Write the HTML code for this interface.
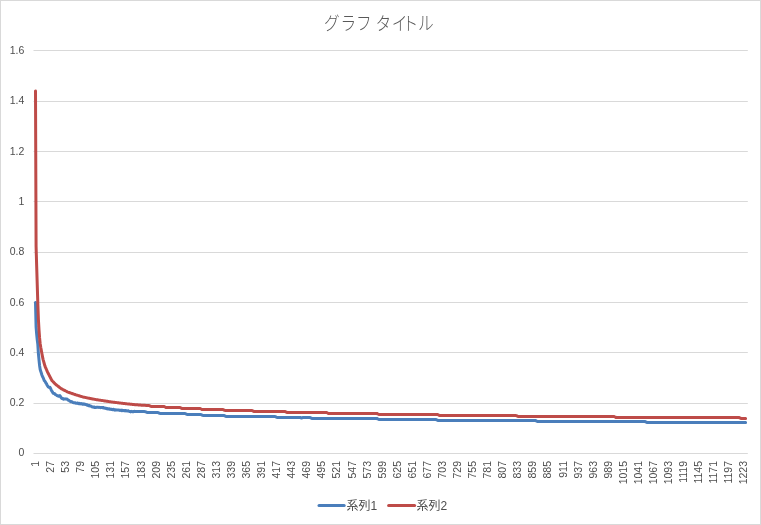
<!DOCTYPE html>
<html lang="ja"><head><meta charset="utf-8"><title>グラフ タイトル</title>
<style>
html,body{margin:0;padding:0;background:#fff;}
body{width:761px;height:525px;overflow:hidden;}
svg{display:block;}
text{font-family:"Liberation Sans","Noto Sans CJK JP",sans-serif;fill:#595959;}
.ax{font-size:10.5px;fill:#4d4d4d;}
.lg{font-size:12px;fill:#4d4d4d;}
.ti{font-size:18.67px;font-weight:300;}
</style></head><body>
<svg width="761" height="525" viewBox="0 0 761 525">
<rect x="0" y="0" width="761" height="525" fill="#fff"/>
<rect x="0.5" y="0.5" width="760" height="524" fill="none" stroke="#d9d9d9" stroke-width="1"/>

<rect x="33.5" y="50" width="714.3" height="1" fill="#d9d9d9"/>
<rect x="33.5" y="101" width="714.3" height="1" fill="#d9d9d9"/>
<rect x="33.5" y="151" width="714.3" height="1" fill="#d9d9d9"/>
<rect x="33.5" y="201" width="714.3" height="1" fill="#d9d9d9"/>
<rect x="33.5" y="252" width="714.3" height="1" fill="#d9d9d9"/>
<rect x="33.5" y="302" width="714.3" height="1" fill="#d9d9d9"/>
<rect x="33.5" y="352" width="714.3" height="1" fill="#d9d9d9"/>
<rect x="33.5" y="403" width="714.3" height="1" fill="#d9d9d9"/>
<rect x="33.5" y="453" width="714.3" height="1" fill="#d9d9d9"/>
<text class="ax" x="24.3" y="54.4" text-anchor="end">1.6</text>
<text class="ax" x="24.3" y="104.4" text-anchor="end">1.4</text>
<text class="ax" x="24.3" y="155.4" text-anchor="end">1.2</text>
<text class="ax" x="24.3" y="205.4" text-anchor="end">1</text>
<text class="ax" x="24.3" y="255.4" text-anchor="end">0.8</text>
<text class="ax" x="24.3" y="306.2" text-anchor="end">0.6</text>
<text class="ax" x="24.3" y="356.2" text-anchor="end">0.4</text>
<text class="ax" x="24.3" y="406.4" text-anchor="end">0.2</text>
<text class="ax" x="24.3" y="456.2" text-anchor="end">0</text>
<text class="ax" transform="translate(39.05,461) rotate(-90)" text-anchor="end">1</text>
<text class="ax" transform="translate(54.12,461) rotate(-90)" text-anchor="end">27</text>
<text class="ax" transform="translate(69.19,461) rotate(-90)" text-anchor="end">53</text>
<text class="ax" transform="translate(84.26,461) rotate(-90)" text-anchor="end">79</text>
<text class="ax" transform="translate(99.33,461) rotate(-90)" text-anchor="end">105</text>
<text class="ax" transform="translate(114.40,461) rotate(-90)" text-anchor="end">131</text>
<text class="ax" transform="translate(129.47,461) rotate(-90)" text-anchor="end">157</text>
<text class="ax" transform="translate(144.54,461) rotate(-90)" text-anchor="end">183</text>
<text class="ax" transform="translate(159.61,461) rotate(-90)" text-anchor="end">209</text>
<text class="ax" transform="translate(174.68,461) rotate(-90)" text-anchor="end">235</text>
<text class="ax" transform="translate(189.75,461) rotate(-90)" text-anchor="end">261</text>
<text class="ax" transform="translate(204.82,461) rotate(-90)" text-anchor="end">287</text>
<text class="ax" transform="translate(219.89,461) rotate(-90)" text-anchor="end">313</text>
<text class="ax" transform="translate(234.96,461) rotate(-90)" text-anchor="end">339</text>
<text class="ax" transform="translate(250.03,461) rotate(-90)" text-anchor="end">365</text>
<text class="ax" transform="translate(265.10,461) rotate(-90)" text-anchor="end">391</text>
<text class="ax" transform="translate(280.17,461) rotate(-90)" text-anchor="end">417</text>
<text class="ax" transform="translate(295.24,461) rotate(-90)" text-anchor="end">443</text>
<text class="ax" transform="translate(310.31,461) rotate(-90)" text-anchor="end">469</text>
<text class="ax" transform="translate(325.38,461) rotate(-90)" text-anchor="end">495</text>
<text class="ax" transform="translate(340.45,461) rotate(-90)" text-anchor="end">521</text>
<text class="ax" transform="translate(355.52,461) rotate(-90)" text-anchor="end">547</text>
<text class="ax" transform="translate(370.59,461) rotate(-90)" text-anchor="end">573</text>
<text class="ax" transform="translate(385.66,461) rotate(-90)" text-anchor="end">599</text>
<text class="ax" transform="translate(400.73,461) rotate(-90)" text-anchor="end">625</text>
<text class="ax" transform="translate(415.80,461) rotate(-90)" text-anchor="end">651</text>
<text class="ax" transform="translate(430.87,461) rotate(-90)" text-anchor="end">677</text>
<text class="ax" transform="translate(445.94,461) rotate(-90)" text-anchor="end">703</text>
<text class="ax" transform="translate(461.01,461) rotate(-90)" text-anchor="end">729</text>
<text class="ax" transform="translate(476.08,461) rotate(-90)" text-anchor="end">755</text>
<text class="ax" transform="translate(491.15,461) rotate(-90)" text-anchor="end">781</text>
<text class="ax" transform="translate(506.22,461) rotate(-90)" text-anchor="end">807</text>
<text class="ax" transform="translate(521.29,461) rotate(-90)" text-anchor="end">833</text>
<text class="ax" transform="translate(536.36,461) rotate(-90)" text-anchor="end">859</text>
<text class="ax" transform="translate(551.43,461) rotate(-90)" text-anchor="end">885</text>
<text class="ax" transform="translate(566.50,461) rotate(-90)" text-anchor="end">911</text>
<text class="ax" transform="translate(581.57,461) rotate(-90)" text-anchor="end">937</text>
<text class="ax" transform="translate(596.64,461) rotate(-90)" text-anchor="end">963</text>
<text class="ax" transform="translate(611.71,461) rotate(-90)" text-anchor="end">989</text>
<text class="ax" transform="translate(626.78,461) rotate(-90)" text-anchor="end">1015</text>
<text class="ax" transform="translate(641.85,461) rotate(-90)" text-anchor="end">1041</text>
<text class="ax" transform="translate(656.92,461) rotate(-90)" text-anchor="end">1067</text>
<text class="ax" transform="translate(671.99,461) rotate(-90)" text-anchor="end">1093</text>
<text class="ax" transform="translate(687.06,461) rotate(-90)" text-anchor="end">1119</text>
<text class="ax" transform="translate(702.13,461) rotate(-90)" text-anchor="end">1145</text>
<text class="ax" transform="translate(717.20,461) rotate(-90)" text-anchor="end">1171</text>
<text class="ax" transform="translate(732.27,461) rotate(-90)" text-anchor="end">1197</text>
<text class="ax" transform="translate(747.34,461) rotate(-90)" text-anchor="end">1223</text>
<path d="M35.50,302.40 L36.08,326.99 L36.66,334.08 L37.24,339.73 L37.82,344.38 L38.40,353.57 L38.98,359.59 L39.56,365.38 L40.14,369.29 L40.73,371.33 L41.31,373.04 L41.89,375.03 L42.47,376.47 L43.05,377.48 L43.63,378.86 L44.21,380.63 L44.79,381.06 L45.37,381.86 L45.95,383.22 L46.53,383.68 L47.11,385.32 L47.69,385.97 L48.27,386.89 L48.85,387.35 L49.43,387.41 L50.01,387.34 L50.60,388.52 L51.18,389.90 L51.76,390.98 L52.34,391.69 L52.92,393.02 L53.50,393.28 L54.08,393.45 L54.66,393.64 L55.24,394.59 L55.82,394.69 L56.40,395.15 L56.98,395.56 L57.56,395.73 L58.14,396.17 L58.72,396.09 L59.30,396.31 L59.89,395.67 L60.47,396.37 L61.05,397.57 L61.63,398.26 L62.21,398.48 L62.79,398.59 L63.37,399.15 L63.95,398.83 L64.53,399.01 L65.11,398.82 L65.69,399.01 L66.27,398.97 L66.85,398.99 L67.43,399.47 L68.01,399.80 L68.59,400.36 L69.17,400.53 L69.76,401.04 L70.34,401.32 L70.92,401.75 L71.50,401.86 L72.08,401.71 L72.66,402.38 L73.24,402.63 L73.82,402.77 L74.40,402.71 L74.98,402.99 L75.56,402.81 L76.14,403.32 L76.72,403.23 L77.30,403.11 L77.88,403.03 L78.46,403.67 L79.04,403.85 L79.63,403.30 L80.21,403.88 L80.79,403.69 L81.37,403.59 L81.95,403.78 L82.53,404.20 L83.11,404.35 L83.69,403.86 L84.27,404.34 L84.85,404.03 L85.43,404.58 L86.01,404.40 L86.59,404.87 L87.17,405.17 L87.75,405.08 L88.33,405.66 L88.92,405.42 L89.50,405.50 L90.08,406.10 L90.66,405.95 L91.24,406.30 L91.82,406.69 L92.40,407.07 L92.98,406.96 L93.56,406.89 L94.14,407.48 L94.72,407.10 L95.30,407.56 L95.88,407.53 L96.46,407.17 L97.04,407.24 L97.62,407.29 L98.20,407.38 L98.79,407.36 L99.37,407.36 L99.95,407.45 L100.53,407.72 L101.11,407.47 L101.69,407.46 L102.27,407.72 L102.85,407.43 L103.43,407.52 L104.01,408.08 L104.59,408.00 L105.17,408.26 L105.75,408.13 L106.33,408.64 L106.91,408.83 L107.49,408.52 L108.07,409.01 L108.66,409.09 L109.24,408.77 L109.82,409.24 L110.40,409.20 L110.98,409.42 L111.56,409.27 L112.14,409.59 L112.72,409.68 L113.30,409.26 L113.88,409.36 L114.46,409.86 L115.04,410.14 L115.62,409.71 L116.20,409.93 L116.78,410.10 L117.36,409.98 L117.95,410.09 L118.53,410.10 L119.11,410.18 L119.69,410.39 L120.27,410.22 L120.85,410.32 L121.43,410.64 L122.01,410.16 L122.59,410.58 L123.17,410.74 L123.75,410.49 L124.33,410.47 L124.91,410.92 L125.49,410.57 L126.07,410.57 L126.65,410.79 L127.23,411.02 L127.82,410.69 L128.40,410.97 L128.98,411.11 L129.56,411.58 L130.14,411.43 L130.72,411.85 L131.30,411.37 L131.88,411.49 L132.46,411.71 L133.04,411.87 L133.62,411.57 L134.20,411.41 L134.78,411.33 L135.36,411.60 L135.94,411.60 L136.52,411.60 L137.10,411.60 L137.69,411.60 L138.27,411.60 L138.85,411.60 L139.43,411.60 L140.01,411.60 L140.59,411.60 L141.17,411.60 L141.75,411.60 L142.33,411.60 L142.91,411.60 L143.49,411.60 L144.07,411.60 L144.65,411.60 L145.23,411.71 L145.81,411.97 L146.39,412.23 L146.98,412.49 L147.56,412.50 L148.14,412.50 L148.72,412.50 L149.30,412.50 L149.88,412.50 L150.46,412.50 L151.04,412.50 L151.62,412.50 L152.20,412.50 L152.78,412.50 L153.36,412.50 L153.94,412.50 L154.52,412.50 L155.10,412.50 L155.68,412.50 L156.26,412.50 L156.85,412.50 L157.43,412.50 L158.01,412.50 L158.59,412.79 L159.17,413.08 L159.75,413.37 L160.33,413.50 L160.91,413.50 L161.49,413.50 L162.07,413.50 L162.65,413.50 L163.23,413.50 L163.81,413.50 L164.39,413.50 L164.97,413.50 L165.55,413.50 L166.13,413.50 L166.72,413.50 L167.30,413.50 L167.88,413.50 L168.46,413.50 L169.04,413.50 L169.62,413.50 L170.20,413.50 L170.78,413.50 L171.36,413.50 L171.94,413.50 L172.52,413.50 L173.10,413.50 L173.68,413.50 L174.26,413.50 L174.84,413.50 L175.42,413.50 L176.01,413.50 L176.59,413.50 L177.17,413.50 L177.75,413.50 L178.33,413.50 L178.91,413.50 L179.49,413.50 L180.07,413.50 L180.65,413.50 L181.23,413.50 L181.81,413.50 L182.39,413.50 L182.97,413.50 L183.55,413.50 L184.13,413.50 L184.71,413.50 L185.29,413.65 L185.88,413.94 L186.46,414.23 L187.04,414.50 L187.62,414.50 L188.20,414.50 L188.78,414.50 L189.36,414.50 L189.94,414.50 L190.52,414.50 L191.10,414.50 L191.68,414.50 L192.26,414.50 L192.84,414.50 L193.42,414.50 L194.00,414.50 L194.58,414.50 L195.16,414.50 L195.75,414.50 L196.33,414.50 L196.91,414.50 L197.49,414.50 L198.07,414.50 L198.65,414.50 L199.23,414.50 L199.81,414.50 L200.39,414.50 L200.97,414.50 L201.55,414.78 L202.13,415.07 L202.71,415.36 L203.29,415.50 L203.87,415.50 L204.45,415.50 L205.04,415.50 L205.62,415.50 L206.20,415.50 L206.78,415.50 L207.36,415.50 L207.94,415.50 L208.52,415.50 L209.10,415.50 L209.68,415.50 L210.26,415.50 L210.84,415.50 L211.42,415.50 L212.00,415.50 L212.58,415.50 L213.16,415.50 L213.74,415.50 L214.32,415.50 L214.91,415.50 L215.49,415.50 L216.07,415.50 L216.65,415.50 L217.23,415.50 L217.81,415.50 L218.39,415.50 L218.97,415.50 L219.55,415.50 L220.13,415.50 L220.71,415.50 L221.29,415.50 L221.87,415.50 L222.45,415.50 L223.03,415.50 L223.61,415.50 L224.19,415.60 L224.78,415.89 L225.36,416.18 L225.94,416.47 L226.52,416.50 L227.10,416.50 L227.68,416.50 L228.26,416.50 L228.84,416.50 L229.42,416.50 L230.00,416.50 L230.58,416.50 L231.16,416.50 L231.74,416.50 L232.32,416.50 L232.90,416.50 L233.48,416.50 L234.07,416.50 L234.65,416.50 L235.23,416.50 L235.81,416.50 L236.39,416.50 L236.97,416.50 L237.55,416.50 L238.13,416.50 L238.71,416.50 L239.29,416.50 L239.87,416.50 L240.45,416.50 L241.03,416.50 L241.61,416.50 L242.19,416.50 L242.77,416.50 L243.35,416.50 L243.94,416.50 L244.52,416.50 L245.10,416.50 L245.68,416.50 L246.26,416.50 L246.84,416.50 L247.42,416.50 L248.00,416.50 L248.58,416.50 L249.16,416.50 L249.74,416.50 L250.32,416.50 L250.90,416.50 L251.48,416.50 L252.06,416.50 L252.64,416.50 L253.22,416.50 L253.81,416.50 L254.39,416.50 L254.97,416.50 L255.55,416.50 L256.13,416.50 L256.71,416.50 L257.29,416.50 L257.87,416.50 L258.45,416.50 L259.03,416.50 L259.61,416.50 L260.19,416.50 L260.77,416.50 L261.35,416.50 L261.93,416.50 L262.51,416.50 L263.10,416.50 L263.68,416.50 L264.26,416.50 L264.84,416.50 L265.42,416.50 L266.00,416.50 L266.58,416.50 L267.16,416.50 L267.74,416.50 L268.32,416.50 L268.90,416.50 L269.48,416.50 L270.06,416.50 L270.64,416.50 L271.22,416.50 L271.80,416.50 L272.38,416.50 L272.97,416.50 L273.55,416.50 L274.13,416.50 L274.71,416.50 L275.29,416.64 L275.87,416.93 L276.45,417.22 L277.03,417.50 L277.61,417.50 L278.19,417.50 L278.77,417.50 L279.35,417.50 L279.93,417.50 L280.51,417.50 L281.09,417.50 L281.67,417.50 L282.25,417.50 L282.84,417.50 L283.42,417.50 L284.00,417.50 L284.58,417.50 L285.16,417.50 L285.74,417.50 L286.32,417.50 L286.90,417.50 L287.48,417.50 L288.06,417.50 L288.64,417.50 L289.22,417.50 L289.80,417.50 L290.38,417.50 L290.96,417.50 L291.54,417.50 L292.13,417.50 L292.71,417.50 L293.29,417.50 L293.87,417.50 L294.45,417.50 L295.03,417.50 L295.61,417.50 L296.19,417.50 L296.77,417.50 L297.35,417.50 L297.93,417.50 L298.51,417.50 L299.09,417.50 L299.67,417.50 L300.25,417.50 L300.83,417.50 L301.41,418.05 L302.00,417.77 L302.58,417.50 L303.16,417.50 L303.74,417.50 L304.32,417.50 L304.90,417.50 L305.48,417.50 L306.06,417.50 L306.64,417.50 L307.22,417.50 L307.80,417.50 L308.38,417.50 L308.96,417.50 L309.54,417.50 L310.12,417.56 L310.70,417.85 L311.28,418.14 L311.87,418.43 L312.45,418.50 L313.03,418.50 L313.61,418.50 L314.19,418.50 L314.77,418.50 L315.35,418.50 L315.93,418.50 L316.51,418.50 L317.09,418.50 L317.67,418.50 L318.25,418.50 L318.83,418.50 L319.41,418.50 L319.99,418.50 L320.57,418.50 L321.16,418.50 L321.74,418.50 L322.32,418.50 L322.90,418.50 L323.48,418.50 L324.06,418.50 L324.64,418.50 L325.22,418.50 L325.80,418.50 L326.38,418.50 L326.96,418.50 L327.54,418.50 L328.12,418.50 L328.70,418.50 L329.28,418.50 L329.86,418.50 L330.44,418.50 L331.03,418.50 L331.61,418.50 L332.19,418.50 L332.77,418.50 L333.35,418.50 L333.93,418.50 L334.51,418.50 L335.09,418.50 L335.67,418.50 L336.25,418.50 L336.83,418.50 L337.41,418.50 L337.99,418.50 L338.57,418.50 L339.15,418.50 L339.73,418.50 L340.31,418.50 L340.90,418.50 L341.48,418.50 L342.06,418.50 L342.64,418.50 L343.22,418.50 L343.80,418.50 L344.38,418.50 L344.96,418.50 L345.54,418.50 L346.12,418.50 L346.70,418.50 L347.28,418.50 L347.86,418.50 L348.44,418.50 L349.02,418.50 L349.60,418.50 L350.19,418.50 L350.77,418.50 L351.35,418.50 L351.93,418.50 L352.51,418.50 L353.09,418.50 L353.67,418.50 L354.25,418.50 L354.83,418.50 L355.41,418.50 L355.99,418.50 L356.57,418.50 L357.15,418.50 L357.73,418.50 L358.31,418.50 L358.89,418.50 L359.47,418.50 L360.06,418.50 L360.64,418.50 L361.22,418.50 L361.80,418.50 L362.38,418.50 L362.96,418.50 L363.54,418.50 L364.12,418.50 L364.70,418.50 L365.28,418.50 L365.86,418.50 L366.44,418.50 L367.02,418.50 L367.60,418.50 L368.18,418.50 L368.76,418.50 L369.34,418.50 L369.93,418.50 L370.51,418.50 L371.09,418.50 L371.67,418.50 L372.25,418.50 L372.83,418.50 L373.41,418.50 L373.99,418.50 L374.57,418.50 L375.15,418.50 L375.73,418.50 L376.31,418.50 L376.89,418.50 L377.47,418.74 L378.05,419.03 L378.63,419.32 L379.22,419.50 L379.80,419.50 L380.38,419.50 L380.96,419.50 L381.54,419.50 L382.12,419.50 L382.70,419.50 L383.28,419.50 L383.86,419.50 L384.44,419.50 L385.02,419.50 L385.60,419.50 L386.18,419.50 L386.76,419.50 L387.34,419.50 L387.92,419.50 L388.50,419.50 L389.09,419.50 L389.67,419.50 L390.25,419.50 L390.83,419.50 L391.41,419.50 L391.99,419.50 L392.57,419.50 L393.15,419.50 L393.73,419.50 L394.31,419.50 L394.89,419.50 L395.47,419.50 L396.05,419.50 L396.63,419.50 L397.21,419.50 L397.79,419.50 L398.37,419.50 L398.96,419.50 L399.54,419.50 L400.12,419.50 L400.70,419.50 L401.28,419.50 L401.86,419.50 L402.44,419.50 L403.02,419.50 L403.60,419.50 L404.18,419.50 L404.76,419.50 L405.34,419.50 L405.92,419.50 L406.50,419.50 L407.08,419.50 L407.66,419.50 L408.25,419.50 L408.83,419.50 L409.41,419.50 L409.99,419.50 L410.57,419.50 L411.15,419.50 L411.73,419.50 L412.31,419.50 L412.89,419.50 L413.47,419.50 L414.05,419.50 L414.63,419.50 L415.21,419.50 L415.79,419.50 L416.37,419.50 L416.95,419.50 L417.53,419.50 L418.12,419.50 L418.70,419.50 L419.28,419.50 L419.86,419.50 L420.44,419.50 L421.02,419.50 L421.60,419.50 L422.18,419.50 L422.76,419.50 L423.34,419.50 L423.92,419.50 L424.50,419.50 L425.08,419.50 L425.66,419.50 L426.24,419.50 L426.82,419.50 L427.40,419.50 L427.99,419.50 L428.57,419.50 L429.15,419.50 L429.73,419.50 L430.31,419.50 L430.89,419.50 L431.47,419.50 L432.05,419.50 L432.63,419.50 L433.21,419.50 L433.79,419.50 L434.37,419.50 L434.95,419.50 L435.53,419.50 L436.11,419.56 L436.69,419.85 L437.28,420.14 L437.86,420.43 L438.44,420.50 L439.02,420.50 L439.60,420.50 L440.18,420.50 L440.76,420.50 L441.34,420.50 L441.92,420.50 L442.50,420.50 L443.08,420.50 L443.66,420.50 L444.24,420.50 L444.82,420.50 L445.40,420.50 L445.98,420.50 L446.56,420.50 L447.15,420.50 L447.73,420.50 L448.31,420.50 L448.89,420.50 L449.47,420.50 L450.05,420.50 L450.63,420.50 L451.21,420.50 L451.79,420.50 L452.37,420.50 L452.95,420.50 L453.53,420.50 L454.11,420.50 L454.69,420.50 L455.27,420.50 L455.85,420.50 L456.43,420.50 L457.02,420.50 L457.60,420.50 L458.18,420.50 L458.76,420.50 L459.34,420.50 L459.92,420.50 L460.50,420.50 L461.08,420.50 L461.66,420.50 L462.24,420.50 L462.82,420.50 L463.40,420.50 L463.98,420.50 L464.56,420.50 L465.14,420.50 L465.72,420.50 L466.31,420.50 L466.89,420.50 L467.47,420.50 L468.05,420.50 L468.63,420.50 L469.21,420.50 L469.79,420.50 L470.37,420.50 L470.95,420.50 L471.53,420.50 L472.11,420.50 L472.69,420.50 L473.27,420.50 L473.85,420.50 L474.43,420.50 L475.01,420.50 L475.59,420.50 L476.18,420.50 L476.76,420.50 L477.34,420.50 L477.92,420.50 L478.50,420.50 L479.08,420.50 L479.66,420.50 L480.24,420.50 L480.82,420.50 L481.40,420.50 L481.98,420.50 L482.56,420.50 L483.14,420.50 L483.72,420.50 L484.30,420.50 L484.88,420.50 L485.46,420.50 L486.05,420.50 L486.63,420.50 L487.21,420.50 L487.79,420.50 L488.37,420.50 L488.95,420.50 L489.53,420.50 L490.11,420.50 L490.69,420.50 L491.27,420.50 L491.85,420.50 L492.43,420.50 L493.01,420.50 L493.59,420.50 L494.17,420.50 L494.75,420.50 L495.34,420.50 L495.92,420.50 L496.50,420.50 L497.08,420.50 L497.66,420.50 L498.24,420.50 L498.82,420.50 L499.40,420.50 L499.98,420.50 L500.56,420.50 L501.14,420.50 L501.72,420.50 L502.30,420.50 L502.88,420.50 L503.46,420.50 L504.04,420.50 L504.62,420.50 L505.21,420.50 L505.79,420.50 L506.37,420.50 L506.95,420.50 L507.53,420.50 L508.11,420.50 L508.69,420.50 L509.27,420.50 L509.85,420.50 L510.43,420.50 L511.01,420.50 L511.59,420.50 L512.17,420.50 L512.75,420.50 L513.33,420.50 L513.91,420.50 L514.49,420.50 L515.08,420.50 L515.66,420.50 L516.24,420.50 L516.82,420.50 L517.40,420.50 L517.98,420.50 L518.56,420.50 L519.14,420.50 L519.72,420.50 L520.30,420.50 L520.88,420.50 L521.46,420.50 L522.04,420.50 L522.62,420.50 L523.20,420.50 L523.78,420.50 L524.37,420.50 L524.95,420.50 L525.53,420.50 L526.11,420.50 L526.69,420.50 L527.27,420.50 L527.85,420.50 L528.43,420.50 L529.01,420.50 L529.59,420.50 L530.17,420.50 L530.75,420.50 L531.33,420.50 L531.91,420.50 L532.49,420.50 L533.07,420.50 L533.65,420.50 L534.24,420.50 L534.82,420.50 L535.40,420.50 L535.98,420.74 L536.56,421.03 L537.14,421.32 L537.72,421.50 L538.30,421.50 L538.88,421.50 L539.46,421.50 L540.04,421.50 L540.62,421.50 L541.20,421.50 L541.78,421.50 L542.36,421.50 L542.94,421.50 L543.52,421.50 L544.11,421.50 L544.69,421.50 L545.27,421.50 L545.85,421.50 L546.43,421.50 L547.01,421.50 L547.59,421.50 L548.17,421.50 L548.75,421.50 L549.33,421.50 L549.91,421.50 L550.49,421.50 L551.07,421.50 L551.65,421.50 L552.23,421.50 L552.81,421.50 L553.40,421.50 L553.98,421.50 L554.56,421.50 L555.14,421.50 L555.72,421.50 L556.30,421.50 L556.88,421.50 L557.46,421.50 L558.04,421.50 L558.62,421.50 L559.20,421.50 L559.78,421.50 L560.36,421.50 L560.94,421.50 L561.52,421.50 L562.10,421.50 L562.68,421.50 L563.27,421.50 L563.85,421.50 L564.43,421.50 L565.01,421.50 L565.59,421.50 L566.17,421.50 L566.75,421.50 L567.33,421.50 L567.91,421.50 L568.49,421.50 L569.07,421.50 L569.65,421.50 L570.23,421.50 L570.81,421.50 L571.39,421.50 L571.97,421.50 L572.55,421.50 L573.14,421.50 L573.72,421.50 L574.30,421.50 L574.88,421.50 L575.46,421.50 L576.04,421.50 L576.62,421.50 L577.20,421.50 L577.78,421.50 L578.36,421.50 L578.94,421.50 L579.52,421.50 L580.10,421.50 L580.68,421.50 L581.26,421.50 L581.84,421.50 L582.43,421.50 L583.01,421.50 L583.59,421.50 L584.17,421.50 L584.75,421.50 L585.33,421.50 L585.91,421.50 L586.49,421.50 L587.07,421.50 L587.65,421.50 L588.23,421.50 L588.81,421.50 L589.39,421.50 L589.97,421.50 L590.55,421.50 L591.13,421.50 L591.71,421.50 L592.30,421.50 L592.88,421.50 L593.46,421.50 L594.04,421.50 L594.62,421.50 L595.20,421.50 L595.78,421.50 L596.36,421.50 L596.94,421.50 L597.52,421.50 L598.10,421.50 L598.68,421.50 L599.26,421.50 L599.84,421.50 L600.42,421.50 L601.00,421.50 L601.58,421.50 L602.17,421.50 L602.75,421.50 L603.33,421.50 L603.91,421.50 L604.49,421.50 L605.07,421.50 L605.65,421.50 L606.23,421.50 L606.81,421.50 L607.39,421.50 L607.97,421.50 L608.55,421.50 L609.13,421.50 L609.71,421.50 L610.29,421.50 L610.87,421.50 L611.46,421.50 L612.04,421.50 L612.62,421.50 L613.20,421.50 L613.78,421.50 L614.36,421.50 L614.94,421.50 L615.52,421.50 L616.10,421.50 L616.68,421.50 L617.26,421.50 L617.84,421.50 L618.42,421.50 L619.00,421.50 L619.58,421.50 L620.16,421.50 L620.74,421.50 L621.33,421.50 L621.91,421.50 L622.49,421.50 L623.07,421.50 L623.65,421.50 L624.23,421.50 L624.81,421.50 L625.39,421.50 L625.97,421.50 L626.55,421.50 L627.13,421.50 L627.71,421.50 L628.29,421.50 L628.87,421.50 L629.45,421.50 L630.03,421.50 L630.61,421.50 L631.20,421.50 L631.78,421.50 L632.36,421.50 L632.94,421.50 L633.52,421.50 L634.10,421.50 L634.68,421.50 L635.26,421.50 L635.84,421.50 L636.42,421.50 L637.00,421.50 L637.58,421.50 L638.16,421.50 L638.74,421.50 L639.32,421.50 L639.90,421.50 L640.49,421.50 L641.07,421.50 L641.65,421.50 L642.23,421.50 L642.81,421.50 L643.39,421.50 L643.97,421.50 L644.55,421.50 L645.13,421.56 L645.71,421.86 L646.29,422.15 L646.87,422.44 L647.45,422.50 L648.03,422.50 L648.61,422.50 L649.19,422.50 L649.77,422.50 L650.36,422.50 L650.94,422.50 L651.52,422.50 L652.10,422.50 L652.68,422.50 L653.26,422.50 L653.84,422.50 L654.42,422.50 L655.00,422.50 L655.58,422.50 L656.16,422.50 L656.74,422.50 L657.32,422.50 L657.90,422.50 L658.48,422.50 L659.06,422.50 L659.64,422.50 L660.23,422.50 L660.81,422.50 L661.39,422.50 L661.97,422.50 L662.55,422.50 L663.13,422.50 L663.71,422.50 L664.29,422.50 L664.87,422.50 L665.45,422.50 L666.03,422.50 L666.61,422.50 L667.19,422.50 L667.77,422.50 L668.35,422.50 L668.93,422.50 L669.52,422.50 L670.10,422.50 L670.68,422.50 L671.26,422.50 L671.84,422.50 L672.42,422.50 L673.00,422.50 L673.58,422.50 L674.16,422.50 L674.74,422.50 L675.32,422.50 L675.90,422.50 L676.48,422.50 L677.06,422.50 L677.64,422.50 L678.22,422.50 L678.80,422.50 L679.39,422.50 L679.97,422.50 L680.55,422.50 L681.13,422.50 L681.71,422.50 L682.29,422.50 L682.87,422.50 L683.45,422.50 L684.03,422.50 L684.61,422.50 L685.19,422.50 L685.77,422.50 L686.35,422.50 L686.93,422.50 L687.51,422.50 L688.09,422.50 L688.67,422.50 L689.26,422.50 L689.84,422.50 L690.42,422.50 L691.00,422.50 L691.58,422.50 L692.16,422.50 L692.74,422.50 L693.32,422.50 L693.90,422.50 L694.48,422.50 L695.06,422.50 L695.64,422.50 L696.22,422.50 L696.80,422.50 L697.38,422.50 L697.96,422.50 L698.55,422.50 L699.13,422.50 L699.71,422.50 L700.29,422.50 L700.87,422.50 L701.45,422.50 L702.03,422.50 L702.61,422.50 L703.19,422.50 L703.77,422.50 L704.35,422.50 L704.93,422.50 L705.51,422.50 L706.09,422.50 L706.67,422.50 L707.25,422.50 L707.83,422.50 L708.42,422.50 L709.00,422.50 L709.58,422.50 L710.16,422.50 L710.74,422.50 L711.32,422.50 L711.90,422.50 L712.48,422.50 L713.06,422.50 L713.64,422.50 L714.22,422.50 L714.80,422.50 L715.38,422.50 L715.96,422.50 L716.54,422.50 L717.12,422.50 L717.70,422.50 L718.29,422.50 L718.87,422.50 L719.45,422.50 L720.03,422.50 L720.61,422.50 L721.19,422.50 L721.77,422.50 L722.35,422.50 L722.93,422.50 L723.51,422.50 L724.09,422.50 L724.67,422.50 L725.25,422.50 L725.83,422.50 L726.41,422.50 L726.99,422.50 L727.58,422.50 L728.16,422.50 L728.74,422.50 L729.32,422.50 L729.90,422.50 L730.48,422.50 L731.06,422.50 L731.64,422.50 L732.22,422.50 L732.80,422.50 L733.38,422.50 L733.96,422.50 L734.54,422.50 L735.12,422.50 L735.70,422.50 L736.28,422.50 L736.86,422.50 L737.45,422.50 L738.03,422.50 L738.61,422.50 L739.19,422.50 L739.77,422.50 L740.35,422.50 L740.93,422.50 L741.51,422.50 L742.09,422.50 L742.67,422.50 L743.25,422.50 L743.83,422.50 L744.41,422.50 L744.99,422.50 L745.57,422.50 L745.60,422.50" fill="none" stroke="#4a7ebb" stroke-width="3" stroke-linecap="round" stroke-linejoin="round"/>
<path d="M35.50,91.00 L36.08,246.22 L36.66,265.84 L37.24,284.62 L37.82,303.61 L38.40,319.37 L38.98,329.52 L39.56,337.64 L40.14,343.45 L40.73,347.28 L41.31,350.39 L41.89,353.46 L42.47,356.45 L43.05,359.37 L43.63,361.43 L44.21,363.49 L44.79,365.55 L45.37,367.13 L45.95,368.44 L46.53,369.75 L47.11,371.05 L47.69,372.36 L48.27,373.52 L48.85,374.64 L49.43,375.76 L50.01,376.89 L50.60,378.01 L51.18,379.12 L51.76,380.23 L52.34,380.95 L52.92,381.54 L53.50,382.14 L54.08,382.74 L54.66,383.33 L55.24,383.93 L55.82,384.52 L56.40,384.96 L56.98,385.41 L57.56,385.85 L58.14,386.30 L58.72,386.75 L59.30,387.19 L59.89,387.64 L60.47,388.08 L61.05,388.53 L61.63,388.92 L62.21,389.21 L62.79,389.51 L63.37,389.80 L63.95,390.09 L64.53,390.39 L65.11,390.68 L65.69,390.98 L66.27,391.27 L66.85,391.57 L67.43,391.86 L68.01,392.11 L68.59,392.31 L69.17,392.51 L69.76,392.71 L70.34,392.91 L70.92,393.11 L71.50,393.31 L72.08,393.52 L72.66,393.72 L73.24,393.92 L73.82,394.12 L74.40,394.32 L74.98,394.52 L75.56,394.72 L76.14,394.90 L76.72,395.07 L77.30,395.25 L77.88,395.42 L78.46,395.60 L79.04,395.78 L79.63,395.95 L80.21,396.13 L80.79,396.31 L81.37,396.48 L81.95,396.66 L82.53,396.84 L83.11,397.01 L83.69,397.16 L84.27,397.28 L84.85,397.39 L85.43,397.51 L86.01,397.63 L86.59,397.75 L87.17,397.86 L87.75,397.98 L88.33,398.10 L88.92,398.22 L89.50,398.33 L90.08,398.45 L90.66,398.57 L91.24,398.69 L91.82,398.80 L92.40,398.91 L92.98,399.02 L93.56,399.13 L94.14,399.24 L94.72,399.36 L95.30,399.47 L95.88,399.58 L96.46,399.67 L97.04,399.76 L97.62,399.85 L98.20,399.93 L98.79,400.02 L99.37,400.11 L99.95,400.20 L100.53,400.29 L101.11,400.38 L101.69,400.46 L102.27,400.55 L102.85,400.64 L103.43,400.73 L104.01,400.82 L104.59,400.91 L105.17,400.99 L105.75,401.08 L106.33,401.17 L106.91,401.26 L107.49,401.35 L108.07,401.43 L108.66,401.52 L109.24,401.61 L109.82,401.70 L110.40,401.79 L110.98,401.88 L111.56,401.96 L112.14,402.04 L112.72,402.12 L113.30,402.19 L113.88,402.26 L114.46,402.34 L115.04,402.41 L115.62,402.48 L116.20,402.56 L116.78,402.63 L117.36,402.70 L117.95,402.78 L118.53,402.85 L119.11,402.92 L119.69,403.00 L120.27,403.07 L120.85,403.13 L121.43,403.20 L122.01,403.27 L122.59,403.33 L123.17,403.40 L123.75,403.47 L124.33,403.53 L124.91,403.60 L125.49,403.67 L126.07,403.74 L126.65,403.80 L127.23,403.87 L127.82,403.93 L128.40,403.99 L128.98,404.05 L129.56,404.11 L130.14,404.17 L130.72,404.23 L131.30,404.28 L131.88,404.34 L132.46,404.40 L133.04,404.46 L133.62,404.52 L134.20,404.58 L134.78,404.64 L135.36,404.70 L135.94,404.74 L136.52,404.79 L137.10,404.83 L137.69,404.87 L138.27,404.92 L138.85,404.96 L139.43,405.01 L140.01,405.05 L140.59,405.09 L141.17,405.14 L141.75,405.18 L142.33,405.23 L142.91,405.27 L143.49,405.31 L144.07,405.33 L144.65,405.35 L145.23,405.37 L145.81,405.39 L146.39,405.41 L146.98,405.43 L147.56,405.45 L148.14,405.47 L148.72,405.49 L149.30,405.65 L149.88,405.94 L150.46,406.23 L151.04,406.50 L151.62,406.50 L152.20,406.50 L152.78,406.50 L153.36,406.50 L153.94,406.50 L154.52,406.50 L155.10,406.50 L155.68,406.50 L156.26,406.50 L156.85,406.50 L157.43,406.50 L158.01,406.50 L158.59,406.50 L159.17,406.50 L159.75,406.50 L160.33,406.50 L160.91,406.50 L161.49,406.50 L162.07,406.50 L162.65,406.50 L163.23,406.50 L163.81,406.50 L164.39,406.70 L164.97,406.99 L165.55,407.28 L166.13,407.50 L166.72,407.50 L167.30,407.50 L167.88,407.50 L168.46,407.50 L169.04,407.50 L169.62,407.50 L170.20,407.50 L170.78,407.50 L171.36,407.50 L171.94,407.50 L172.52,407.50 L173.10,407.50 L173.68,407.50 L174.26,407.50 L174.84,407.50 L175.42,407.50 L176.01,407.50 L176.59,407.50 L177.17,407.50 L177.75,407.50 L178.33,407.50 L178.91,407.50 L179.49,407.50 L180.07,407.53 L180.65,407.82 L181.23,408.12 L181.81,408.41 L182.39,408.50 L182.97,408.50 L183.55,408.50 L184.13,408.50 L184.71,408.50 L185.29,408.50 L185.88,408.50 L186.46,408.50 L187.04,408.50 L187.62,408.50 L188.20,408.50 L188.78,408.50 L189.36,408.50 L189.94,408.50 L190.52,408.50 L191.10,408.50 L191.68,408.50 L192.26,408.50 L192.84,408.50 L193.42,408.50 L194.00,408.50 L194.58,408.50 L195.16,408.50 L195.75,408.50 L196.33,408.50 L196.91,408.50 L197.49,408.50 L198.07,408.50 L198.65,408.50 L199.23,408.50 L199.81,408.50 L200.39,408.70 L200.97,408.99 L201.55,409.28 L202.13,409.50 L202.71,409.50 L203.29,409.50 L203.87,409.50 L204.45,409.50 L205.04,409.50 L205.62,409.50 L206.20,409.50 L206.78,409.50 L207.36,409.50 L207.94,409.50 L208.52,409.50 L209.10,409.50 L209.68,409.50 L210.26,409.50 L210.84,409.50 L211.42,409.50 L212.00,409.50 L212.58,409.50 L213.16,409.50 L213.74,409.50 L214.32,409.50 L214.91,409.50 L215.49,409.50 L216.07,409.50 L216.65,409.50 L217.23,409.50 L217.81,409.50 L218.39,409.50 L218.97,409.50 L219.55,409.50 L220.13,409.50 L220.71,409.50 L221.29,409.50 L221.87,409.50 L222.45,409.50 L223.03,409.52 L223.61,409.81 L224.19,410.10 L224.78,410.39 L225.36,410.50 L225.94,410.50 L226.52,410.50 L227.10,410.50 L227.68,410.50 L228.26,410.50 L228.84,410.50 L229.42,410.50 L230.00,410.50 L230.58,410.50 L231.16,410.50 L231.74,410.50 L232.32,410.50 L232.90,410.50 L233.48,410.50 L234.07,410.50 L234.65,410.50 L235.23,410.50 L235.81,410.50 L236.39,410.50 L236.97,410.50 L237.55,410.50 L238.13,410.50 L238.71,410.50 L239.29,410.50 L239.87,410.50 L240.45,410.50 L241.03,410.50 L241.61,410.50 L242.19,410.50 L242.77,410.50 L243.35,410.50 L243.94,410.50 L244.52,410.50 L245.10,410.50 L245.68,410.50 L246.26,410.50 L246.84,410.50 L247.42,410.50 L248.00,410.50 L248.58,410.50 L249.16,410.50 L249.74,410.50 L250.32,410.50 L250.90,410.50 L251.48,410.50 L252.06,410.53 L252.64,410.82 L253.22,411.11 L253.81,411.40 L254.39,411.50 L254.97,411.50 L255.55,411.50 L256.13,411.50 L256.71,411.50 L257.29,411.50 L257.87,411.50 L258.45,411.50 L259.03,411.50 L259.61,411.50 L260.19,411.50 L260.77,411.50 L261.35,411.50 L261.93,411.50 L262.51,411.50 L263.10,411.50 L263.68,411.50 L264.26,411.50 L264.84,411.50 L265.42,411.50 L266.00,411.50 L266.58,411.50 L267.16,411.50 L267.74,411.50 L268.32,411.50 L268.90,411.50 L269.48,411.50 L270.06,411.50 L270.64,411.50 L271.22,411.50 L271.80,411.50 L272.38,411.50 L272.97,411.50 L273.55,411.50 L274.13,411.50 L274.71,411.50 L275.29,411.50 L275.87,411.50 L276.45,411.50 L277.03,411.50 L277.61,411.50 L278.19,411.50 L278.77,411.50 L279.35,411.50 L279.93,411.50 L280.51,411.50 L281.09,411.50 L281.67,411.50 L282.25,411.50 L282.84,411.50 L283.42,411.50 L284.00,411.50 L284.58,411.50 L285.16,411.58 L285.74,411.87 L286.32,412.16 L286.90,412.45 L287.48,412.50 L288.06,412.50 L288.64,412.50 L289.22,412.50 L289.80,412.50 L290.38,412.50 L290.96,412.50 L291.54,412.50 L292.13,412.50 L292.71,412.50 L293.29,412.50 L293.87,412.50 L294.45,412.50 L295.03,412.50 L295.61,412.50 L296.19,412.50 L296.77,412.50 L297.35,412.50 L297.93,412.50 L298.51,412.50 L299.09,412.50 L299.67,412.50 L300.25,412.50 L300.83,412.50 L301.41,412.50 L302.00,412.50 L302.58,412.50 L303.16,412.50 L303.74,412.50 L304.32,412.50 L304.90,412.50 L305.48,412.50 L306.06,412.50 L306.64,412.50 L307.22,412.50 L307.80,412.50 L308.38,412.50 L308.96,412.50 L309.54,412.50 L310.12,412.50 L310.70,412.50 L311.28,412.50 L311.87,412.50 L312.45,412.50 L313.03,412.50 L313.61,412.50 L314.19,412.50 L314.77,412.50 L315.35,412.50 L315.93,412.50 L316.51,412.50 L317.09,412.50 L317.67,412.50 L318.25,412.50 L318.83,412.50 L319.41,412.50 L319.99,412.50 L320.57,412.50 L321.16,412.50 L321.74,412.50 L322.32,412.50 L322.90,412.50 L323.48,412.50 L324.06,412.50 L324.64,412.50 L325.22,412.50 L325.80,412.50 L326.38,412.50 L326.96,412.73 L327.54,413.02 L328.12,413.31 L328.70,413.50 L329.28,413.50 L329.86,413.50 L330.44,413.50 L331.03,413.50 L331.61,413.50 L332.19,413.50 L332.77,413.50 L333.35,413.50 L333.93,413.50 L334.51,413.50 L335.09,413.50 L335.67,413.50 L336.25,413.50 L336.83,413.50 L337.41,413.50 L337.99,413.50 L338.57,413.50 L339.15,413.50 L339.73,413.50 L340.31,413.50 L340.90,413.50 L341.48,413.50 L342.06,413.50 L342.64,413.50 L343.22,413.50 L343.80,413.50 L344.38,413.50 L344.96,413.50 L345.54,413.50 L346.12,413.50 L346.70,413.50 L347.28,413.50 L347.86,413.50 L348.44,413.50 L349.02,413.50 L349.60,413.50 L350.19,413.50 L350.77,413.50 L351.35,413.50 L351.93,413.50 L352.51,413.50 L353.09,413.50 L353.67,413.50 L354.25,413.50 L354.83,413.50 L355.41,413.50 L355.99,413.50 L356.57,413.50 L357.15,413.50 L357.73,413.50 L358.31,413.50 L358.89,413.50 L359.47,413.50 L360.06,413.50 L360.64,413.50 L361.22,413.50 L361.80,413.50 L362.38,413.50 L362.96,413.50 L363.54,413.50 L364.12,413.50 L364.70,413.50 L365.28,413.50 L365.86,413.50 L366.44,413.50 L367.02,413.50 L367.60,413.50 L368.18,413.50 L368.76,413.50 L369.34,413.50 L369.93,413.50 L370.51,413.50 L371.09,413.50 L371.67,413.50 L372.25,413.50 L372.83,413.50 L373.41,413.50 L373.99,413.50 L374.57,413.50 L375.15,413.50 L375.73,413.50 L376.31,413.50 L376.89,413.50 L377.47,413.74 L378.05,414.03 L378.63,414.32 L379.22,414.50 L379.80,414.50 L380.38,414.50 L380.96,414.50 L381.54,414.50 L382.12,414.50 L382.70,414.50 L383.28,414.50 L383.86,414.50 L384.44,414.50 L385.02,414.50 L385.60,414.50 L386.18,414.50 L386.76,414.50 L387.34,414.50 L387.92,414.50 L388.50,414.50 L389.09,414.50 L389.67,414.50 L390.25,414.50 L390.83,414.50 L391.41,414.50 L391.99,414.50 L392.57,414.50 L393.15,414.50 L393.73,414.50 L394.31,414.50 L394.89,414.50 L395.47,414.50 L396.05,414.50 L396.63,414.50 L397.21,414.50 L397.79,414.50 L398.37,414.50 L398.96,414.50 L399.54,414.50 L400.12,414.50 L400.70,414.50 L401.28,414.50 L401.86,414.50 L402.44,414.50 L403.02,414.50 L403.60,414.50 L404.18,414.50 L404.76,414.50 L405.34,414.50 L405.92,414.50 L406.50,414.50 L407.08,414.50 L407.66,414.50 L408.25,414.50 L408.83,414.50 L409.41,414.50 L409.99,414.50 L410.57,414.50 L411.15,414.50 L411.73,414.50 L412.31,414.50 L412.89,414.50 L413.47,414.50 L414.05,414.50 L414.63,414.50 L415.21,414.50 L415.79,414.50 L416.37,414.50 L416.95,414.50 L417.53,414.50 L418.12,414.50 L418.70,414.50 L419.28,414.50 L419.86,414.50 L420.44,414.50 L421.02,414.50 L421.60,414.50 L422.18,414.50 L422.76,414.50 L423.34,414.50 L423.92,414.50 L424.50,414.50 L425.08,414.50 L425.66,414.50 L426.24,414.50 L426.82,414.50 L427.40,414.50 L427.99,414.50 L428.57,414.50 L429.15,414.50 L429.73,414.50 L430.31,414.50 L430.89,414.50 L431.47,414.50 L432.05,414.50 L432.63,414.50 L433.21,414.50 L433.79,414.50 L434.37,414.50 L434.95,414.50 L435.53,414.50 L436.11,414.50 L436.69,414.50 L437.28,414.50 L437.86,414.68 L438.44,414.97 L439.02,415.26 L439.60,415.50 L440.18,415.50 L440.76,415.50 L441.34,415.50 L441.92,415.50 L442.50,415.50 L443.08,415.50 L443.66,415.50 L444.24,415.50 L444.82,415.50 L445.40,415.50 L445.98,415.50 L446.56,415.50 L447.15,415.50 L447.73,415.50 L448.31,415.50 L448.89,415.50 L449.47,415.50 L450.05,415.50 L450.63,415.50 L451.21,415.50 L451.79,415.50 L452.37,415.50 L452.95,415.50 L453.53,415.50 L454.11,415.50 L454.69,415.50 L455.27,415.50 L455.85,415.50 L456.43,415.50 L457.02,415.50 L457.60,415.50 L458.18,415.50 L458.76,415.50 L459.34,415.50 L459.92,415.50 L460.50,415.50 L461.08,415.50 L461.66,415.50 L462.24,415.50 L462.82,415.50 L463.40,415.50 L463.98,415.50 L464.56,415.50 L465.14,415.50 L465.72,415.50 L466.31,415.50 L466.89,415.50 L467.47,415.50 L468.05,415.50 L468.63,415.50 L469.21,415.50 L469.79,415.50 L470.37,415.50 L470.95,415.50 L471.53,415.50 L472.11,415.50 L472.69,415.50 L473.27,415.50 L473.85,415.50 L474.43,415.50 L475.01,415.50 L475.59,415.50 L476.18,415.50 L476.76,415.50 L477.34,415.50 L477.92,415.50 L478.50,415.50 L479.08,415.50 L479.66,415.50 L480.24,415.50 L480.82,415.50 L481.40,415.50 L481.98,415.50 L482.56,415.50 L483.14,415.50 L483.72,415.50 L484.30,415.50 L484.88,415.50 L485.46,415.50 L486.05,415.50 L486.63,415.50 L487.21,415.50 L487.79,415.50 L488.37,415.50 L488.95,415.50 L489.53,415.50 L490.11,415.50 L490.69,415.50 L491.27,415.50 L491.85,415.50 L492.43,415.50 L493.01,415.50 L493.59,415.50 L494.17,415.50 L494.75,415.50 L495.34,415.50 L495.92,415.50 L496.50,415.50 L497.08,415.50 L497.66,415.50 L498.24,415.50 L498.82,415.50 L499.40,415.50 L499.98,415.50 L500.56,415.50 L501.14,415.50 L501.72,415.50 L502.30,415.50 L502.88,415.50 L503.46,415.50 L504.04,415.50 L504.62,415.50 L505.21,415.50 L505.79,415.50 L506.37,415.50 L506.95,415.50 L507.53,415.50 L508.11,415.50 L508.69,415.50 L509.27,415.50 L509.85,415.50 L510.43,415.50 L511.01,415.50 L511.59,415.50 L512.17,415.50 L512.75,415.50 L513.33,415.50 L513.91,415.50 L514.49,415.50 L515.08,415.50 L515.66,415.50 L516.24,415.62 L516.82,415.91 L517.40,416.20 L517.98,416.49 L518.56,416.50 L519.14,416.50 L519.72,416.50 L520.30,416.50 L520.88,416.50 L521.46,416.50 L522.04,416.50 L522.62,416.50 L523.20,416.50 L523.78,416.50 L524.37,416.50 L524.95,416.50 L525.53,416.50 L526.11,416.50 L526.69,416.50 L527.27,416.50 L527.85,416.50 L528.43,416.50 L529.01,416.50 L529.59,416.50 L530.17,416.50 L530.75,416.50 L531.33,416.50 L531.91,416.50 L532.49,416.50 L533.07,416.50 L533.65,416.50 L534.24,416.50 L534.82,416.50 L535.40,416.50 L535.98,416.50 L536.56,416.50 L537.14,416.50 L537.72,416.50 L538.30,416.50 L538.88,416.50 L539.46,416.50 L540.04,416.50 L540.62,416.50 L541.20,416.50 L541.78,416.50 L542.36,416.50 L542.94,416.50 L543.52,416.50 L544.11,416.50 L544.69,416.50 L545.27,416.50 L545.85,416.50 L546.43,416.50 L547.01,416.50 L547.59,416.50 L548.17,416.50 L548.75,416.50 L549.33,416.50 L549.91,416.50 L550.49,416.50 L551.07,416.50 L551.65,416.50 L552.23,416.50 L552.81,416.50 L553.40,416.50 L553.98,416.50 L554.56,416.50 L555.14,416.50 L555.72,416.50 L556.30,416.50 L556.88,416.50 L557.46,416.50 L558.04,416.50 L558.62,416.50 L559.20,416.50 L559.78,416.50 L560.36,416.50 L560.94,416.50 L561.52,416.50 L562.10,416.50 L562.68,416.50 L563.27,416.50 L563.85,416.50 L564.43,416.50 L565.01,416.50 L565.59,416.50 L566.17,416.50 L566.75,416.50 L567.33,416.50 L567.91,416.50 L568.49,416.50 L569.07,416.50 L569.65,416.50 L570.23,416.50 L570.81,416.50 L571.39,416.50 L571.97,416.50 L572.55,416.50 L573.14,416.50 L573.72,416.50 L574.30,416.50 L574.88,416.50 L575.46,416.50 L576.04,416.50 L576.62,416.50 L577.20,416.50 L577.78,416.50 L578.36,416.50 L578.94,416.50 L579.52,416.50 L580.10,416.50 L580.68,416.50 L581.26,416.50 L581.84,416.50 L582.43,416.50 L583.01,416.50 L583.59,416.50 L584.17,416.50 L584.75,416.50 L585.33,416.50 L585.91,416.50 L586.49,416.50 L587.07,416.50 L587.65,416.50 L588.23,416.50 L588.81,416.50 L589.39,416.50 L589.97,416.50 L590.55,416.50 L591.13,416.50 L591.71,416.50 L592.30,416.50 L592.88,416.50 L593.46,416.50 L594.04,416.50 L594.62,416.50 L595.20,416.50 L595.78,416.50 L596.36,416.50 L596.94,416.50 L597.52,416.50 L598.10,416.50 L598.68,416.50 L599.26,416.50 L599.84,416.50 L600.42,416.50 L601.00,416.50 L601.58,416.50 L602.17,416.50 L602.75,416.50 L603.33,416.50 L603.91,416.50 L604.49,416.50 L605.07,416.50 L605.65,416.50 L606.23,416.50 L606.81,416.50 L607.39,416.50 L607.97,416.50 L608.55,416.50 L609.13,416.50 L609.71,416.50 L610.29,416.50 L610.87,416.50 L611.46,416.50 L612.04,416.50 L612.62,416.50 L613.20,416.50 L613.78,416.50 L614.36,416.68 L614.94,416.97 L615.52,417.26 L616.10,417.50 L616.68,417.50 L617.26,417.50 L617.84,417.50 L618.42,417.50 L619.00,417.50 L619.58,417.50 L620.16,417.50 L620.74,417.50 L621.33,417.50 L621.91,417.50 L622.49,417.50 L623.07,417.50 L623.65,417.50 L624.23,417.50 L624.81,417.50 L625.39,417.50 L625.97,417.50 L626.55,417.50 L627.13,417.50 L627.71,417.50 L628.29,417.50 L628.87,417.50 L629.45,417.50 L630.03,417.50 L630.61,417.50 L631.20,417.50 L631.78,417.50 L632.36,417.50 L632.94,417.50 L633.52,417.50 L634.10,417.50 L634.68,417.50 L635.26,417.50 L635.84,417.50 L636.42,417.50 L637.00,417.50 L637.58,417.50 L638.16,417.50 L638.74,417.50 L639.32,417.50 L639.90,417.50 L640.49,417.50 L641.07,417.50 L641.65,417.50 L642.23,417.50 L642.81,417.50 L643.39,417.50 L643.97,417.50 L644.55,417.50 L645.13,417.50 L645.71,417.50 L646.29,417.50 L646.87,417.50 L647.45,417.50 L648.03,417.50 L648.61,417.50 L649.19,417.50 L649.77,417.50 L650.36,417.50 L650.94,417.50 L651.52,417.50 L652.10,417.50 L652.68,417.50 L653.26,417.50 L653.84,417.50 L654.42,417.50 L655.00,417.50 L655.58,417.50 L656.16,417.50 L656.74,417.50 L657.32,417.50 L657.90,417.50 L658.48,417.50 L659.06,417.50 L659.64,417.50 L660.23,417.50 L660.81,417.50 L661.39,417.50 L661.97,417.50 L662.55,417.50 L663.13,417.50 L663.71,417.50 L664.29,417.50 L664.87,417.50 L665.45,417.50 L666.03,417.50 L666.61,417.50 L667.19,417.50 L667.77,417.50 L668.35,417.50 L668.93,417.50 L669.52,417.50 L670.10,417.50 L670.68,417.50 L671.26,417.50 L671.84,417.50 L672.42,417.50 L673.00,417.50 L673.58,417.50 L674.16,417.50 L674.74,417.50 L675.32,417.50 L675.90,417.50 L676.48,417.50 L677.06,417.50 L677.64,417.50 L678.22,417.50 L678.80,417.50 L679.39,417.50 L679.97,417.50 L680.55,417.50 L681.13,417.50 L681.71,417.50 L682.29,417.50 L682.87,417.50 L683.45,417.50 L684.03,417.50 L684.61,417.50 L685.19,417.50 L685.77,417.50 L686.35,417.50 L686.93,417.50 L687.51,417.50 L688.09,417.50 L688.67,417.50 L689.26,417.50 L689.84,417.50 L690.42,417.50 L691.00,417.50 L691.58,417.50 L692.16,417.50 L692.74,417.50 L693.32,417.50 L693.90,417.50 L694.48,417.50 L695.06,417.50 L695.64,417.50 L696.22,417.50 L696.80,417.50 L697.38,417.50 L697.96,417.50 L698.55,417.50 L699.13,417.50 L699.71,417.50 L700.29,417.50 L700.87,417.50 L701.45,417.50 L702.03,417.50 L702.61,417.50 L703.19,417.50 L703.77,417.50 L704.35,417.50 L704.93,417.50 L705.51,417.50 L706.09,417.50 L706.67,417.50 L707.25,417.50 L707.83,417.50 L708.42,417.50 L709.00,417.50 L709.58,417.50 L710.16,417.50 L710.74,417.50 L711.32,417.50 L711.90,417.50 L712.48,417.50 L713.06,417.50 L713.64,417.50 L714.22,417.50 L714.80,417.50 L715.38,417.50 L715.96,417.50 L716.54,417.50 L717.12,417.50 L717.70,417.50 L718.29,417.50 L718.87,417.50 L719.45,417.50 L720.03,417.50 L720.61,417.50 L721.19,417.50 L721.77,417.50 L722.35,417.50 L722.93,417.50 L723.51,417.50 L724.09,417.50 L724.67,417.50 L725.25,417.50 L725.83,417.50 L726.41,417.50 L726.99,417.50 L727.58,417.50 L728.16,417.50 L728.74,417.50 L729.32,417.50 L729.90,417.50 L730.48,417.50 L731.06,417.50 L731.64,417.50 L732.22,417.50 L732.80,417.50 L733.38,417.50 L733.96,417.50 L734.54,417.50 L735.12,417.50 L735.70,417.50 L736.28,417.50 L736.86,417.50 L737.45,417.50 L738.03,417.50 L738.61,417.50 L739.19,417.59 L739.77,417.88 L740.35,418.17 L740.93,418.46 L741.51,418.50 L742.09,418.50 L742.67,418.50 L743.25,418.50 L743.83,418.50 L744.41,418.50 L744.99,418.50 L745.57,418.50 L745.60,418.50" fill="none" stroke="#be4b48" stroke-width="3" stroke-linecap="round" stroke-linejoin="round"/>
<line x1="319" y1="505.5" x2="344.2" y2="505.5" stroke="#4a7ebb" stroke-width="3" stroke-linecap="round"/>
<text class="lg" x="346.5" y="509.8">系列1</text>
<line x1="388.6" y1="505.5" x2="414.6" y2="505.5" stroke="#be4b48" stroke-width="3" stroke-linecap="round"/>
<text class="lg" x="416.5" y="509.8">系列2</text>
<g transform="translate(324,29.5) scale(0.84,1)"><text class="ti" x="0 19.7 38 56 61.2 80.8 93.4 111.9" y="0">グラフ タイトル</text></g>
</svg></body></html>
